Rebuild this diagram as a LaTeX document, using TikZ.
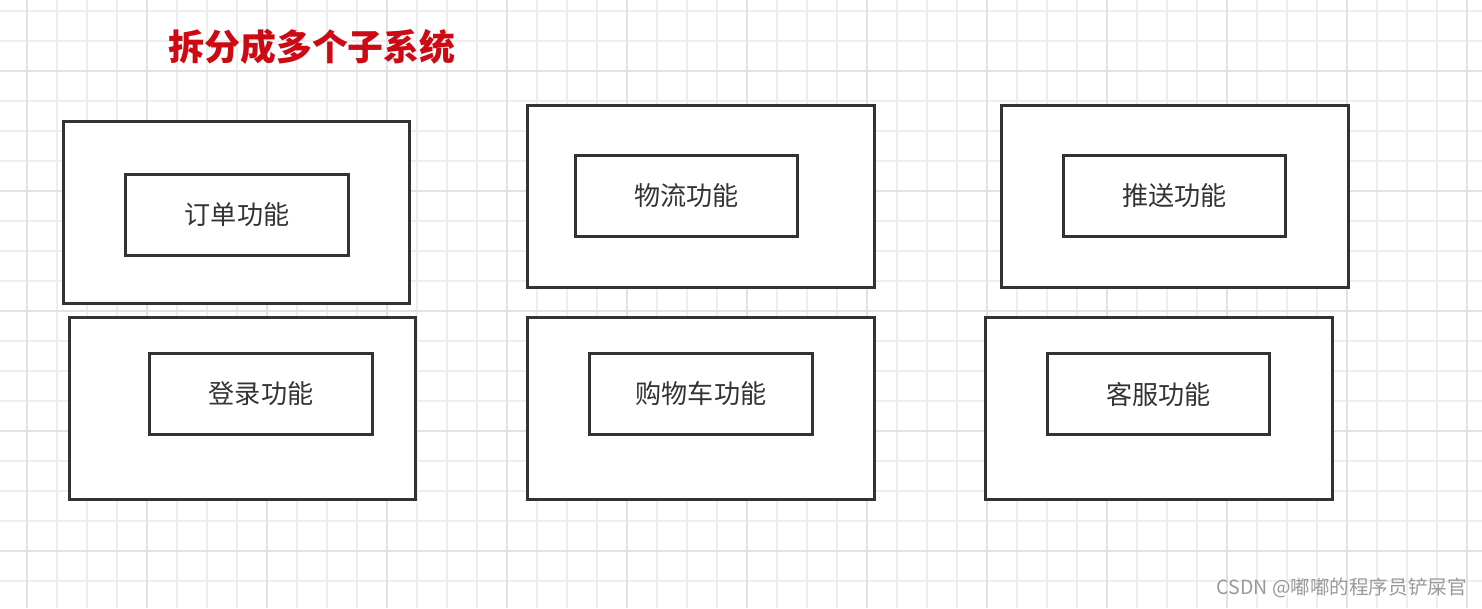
\documentclass[tikz,border=0pt]{standalone}
\usepackage{fontspec}
\setmainfont{Noto Sans CJK SC}
\newfontfamily\cjk{Noto Sans CJK SC}
\definecolor{boxline}{HTML}{333333}
\definecolor{gridminor}{HTML}{EEEEEE}
\definecolor{gridmajor}{HTML}{E2E2E2}
\definecolor{titlered}{HTML}{CC0A14}
\definecolor{marktext}{HTML}{9A9A9A}
\tikzset{
  outerbox/.style={draw=boxline, line width=2.5pt, fill=white, minimum width=10.4cm, minimum height=5.45cm},
  innerbox/.style={draw=boxline, line width=2.5pt, fill=white, minimum width=6.68cm, minimum height=2.43cm,
    font=\cjk\fontsize{22.3}{26}\selectfont, text=boxline},
}
\begin{document}
\begin{tikzpicture}[x=0.03cm, y=-0.03cm]
\fill[white] (0,0) rectangle (1482,608);
\useasboundingbox (0,0) rectangle (1482,608);
\foreach \gx in {27,57,...,1482} \draw[gridminor, line width=1pt] (\gx,0) -- (\gx,608);
\foreach \gy in {11,41,...,608} \draw[gridminor, line width=1pt] (0,\gy) -- (1482,\gy);
\foreach \gx in {27,147,...,1482} \draw[gridmajor, line width=1.4pt] (\gx,0) -- (\gx,608);
\foreach \gy in {71,191,...,608} \draw[gridmajor, line width=1.4pt] (0,\gy) -- (1482,\gy);

\node[text=titlered, font=\cjk\bfseries\fontsize{30.6}{34}\selectfont] (title) at (312,47) {拆分成多个子系统};

\node[outerbox] (order) at (236.5,212.5) {};
\node[innerbox] (orderfn) at (237,215) {订单功能};
\node[outerbox] (login) at (242.5,408.5) {};
\node[innerbox] (loginfn) at (261,394) {登录功能};
\node[outerbox] (logistics) at (701,196.5) {};
\node[innerbox] (logisticsfn) at (686.5,196) {物流功能};
\node[outerbox] (cart) at (701,408.5) {};
\node[innerbox] (cartfn) at (701,394) {购物车功能};
\node[outerbox] (push) at (1175,196.5) {};
\node[innerbox] (pushfn) at (1174.5,196) {推送功能};
\node[outerbox] (service) at (1159,408.5) {};
\node[innerbox] (servicefn) at (1158.5,394) {客服功能};

\node[anchor=east, text=marktext, font=\cjk\fontsize{16.7}{19}\selectfont, inner sep=0pt] (mark) at (1467,588) {CSDN @嘟嘟的程序员铲屎官};
\end{tikzpicture}
\end{document}
